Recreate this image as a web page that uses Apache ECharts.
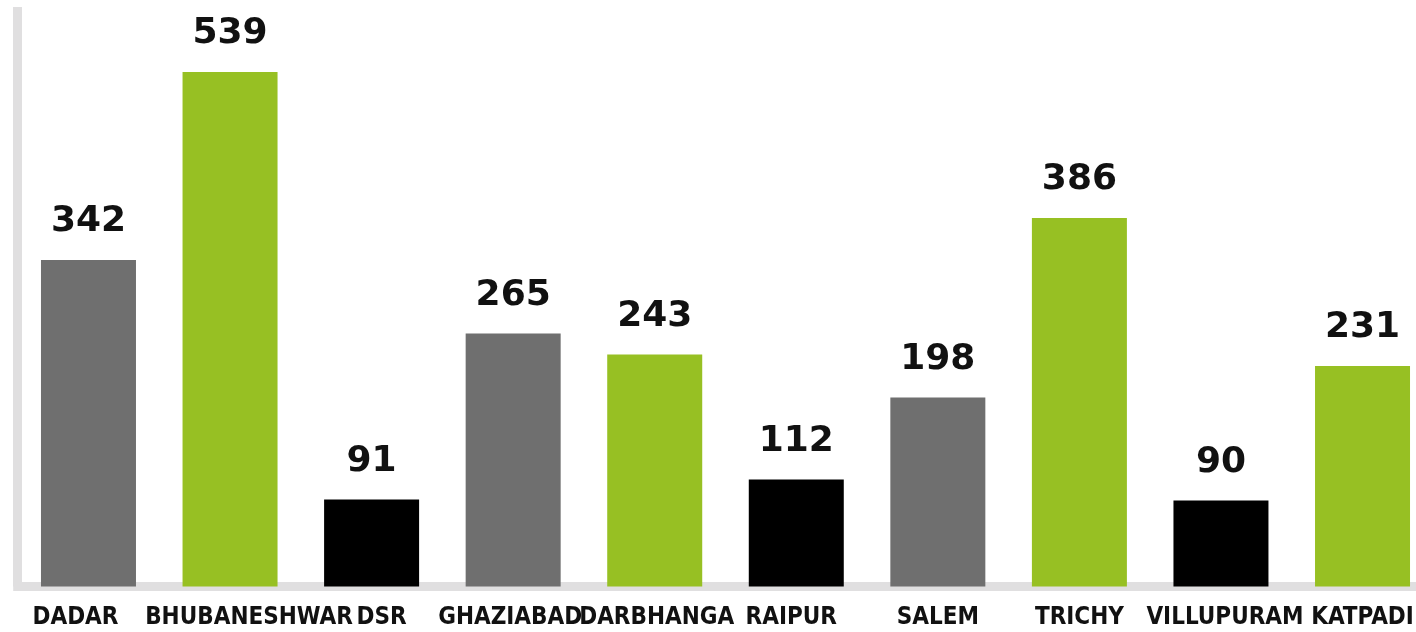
<!DOCTYPE html>
<html>
<head>
<meta charset="utf-8">
<script src="https://cdn.jsdelivr.net/npm/echarts@6/dist/echarts.min.js"></script>
<style>
  html, body { margin: 0; padding: 0; background: #fff; }
  #chart { width: 1416px; height: 632px; }
</style>
</head>
<body>
<div id="chart"></div>
<script>
// 城市与数量
var cities = ['DADAR', 'BHUBANESHWAR', 'DSR', 'GHAZIABAD', 'DARBHANGA', 'RAIPUR', 'SALEM', 'TRICHY', 'VILLUPURAM', 'KATPADI'];
var counts = [342, 539, 91, 265, 243, 112, 198, 386, 90, 231];
// 每根柱子的颜色组
var groups = ['grey', 'green', 'black', 'grey', 'green', 'black', 'grey', 'green', 'black', 'green'];

var palette = { grey: '#6f6f6f', green: '#97c023', black: '#000000' };
// 标签左右微调(像素),避免重叠
var nudge = [-13, 19, 10, -3, 2, -5, 0, 0, 4, 0];

var chart = echarts.init(document.getElementById('chart'));
var option = {
    backgroundColor: '#fff',
    animation: false,
    // 右侧超出画布一点
    grid: {
        left: 17.7,
        width: 1415.6,
        top: 7,
        bottom: 45.5,
        outerBoundsMode: 'none',
        containLabel: false
    },
    xAxis: {
        type: 'category',
        data: cities.map(function (c, i) {
            var n = nudge[i];
            return {
                value: c,
                textStyle: { padding: [0, n < 0 ? -2 * n : 0, 0, n > 0 ? 2 * n : 0] }
            };
        }),
        axisLine: { lineStyle: { color: '#e0dfe0', width: 9, cap: 'square' } },
        axisTick: { show: false },
        axisLabel: {
            interval: 0,
            margin: 19,
            color: '#111',
            fontFamily: '"DejaVu Sans Condensed", "DejaVu Sans"',
            fontWeight: 'bold',
            fontSize: 24
        }
    },
    yAxis: {
        type: 'value',
        min: 0,
        max: 607,
        axisLine: { show: true, lineStyle: { color: '#e0dfe0', width: 9, cap: 'butt' } },
        axisTick: { show: false },
        axisLabel: { show: false },
        splitLine: { show: false }
    },
    series: [{
        type: 'bar',
        barWidth: 95,
        data: counts.map(function (v, i) {
            return { value: v, itemStyle: { color: palette[groups[i]] } };
        }),
        label: {
            show: true,
            position: 'top',
            distance: 20,
            color: '#111',
            fontFamily: 'DejaVu Sans',
            fontWeight: 'bold',
            fontSize: 36
        }
    }]
};
chart.setOption(option);
</script>
</body>
</html>
